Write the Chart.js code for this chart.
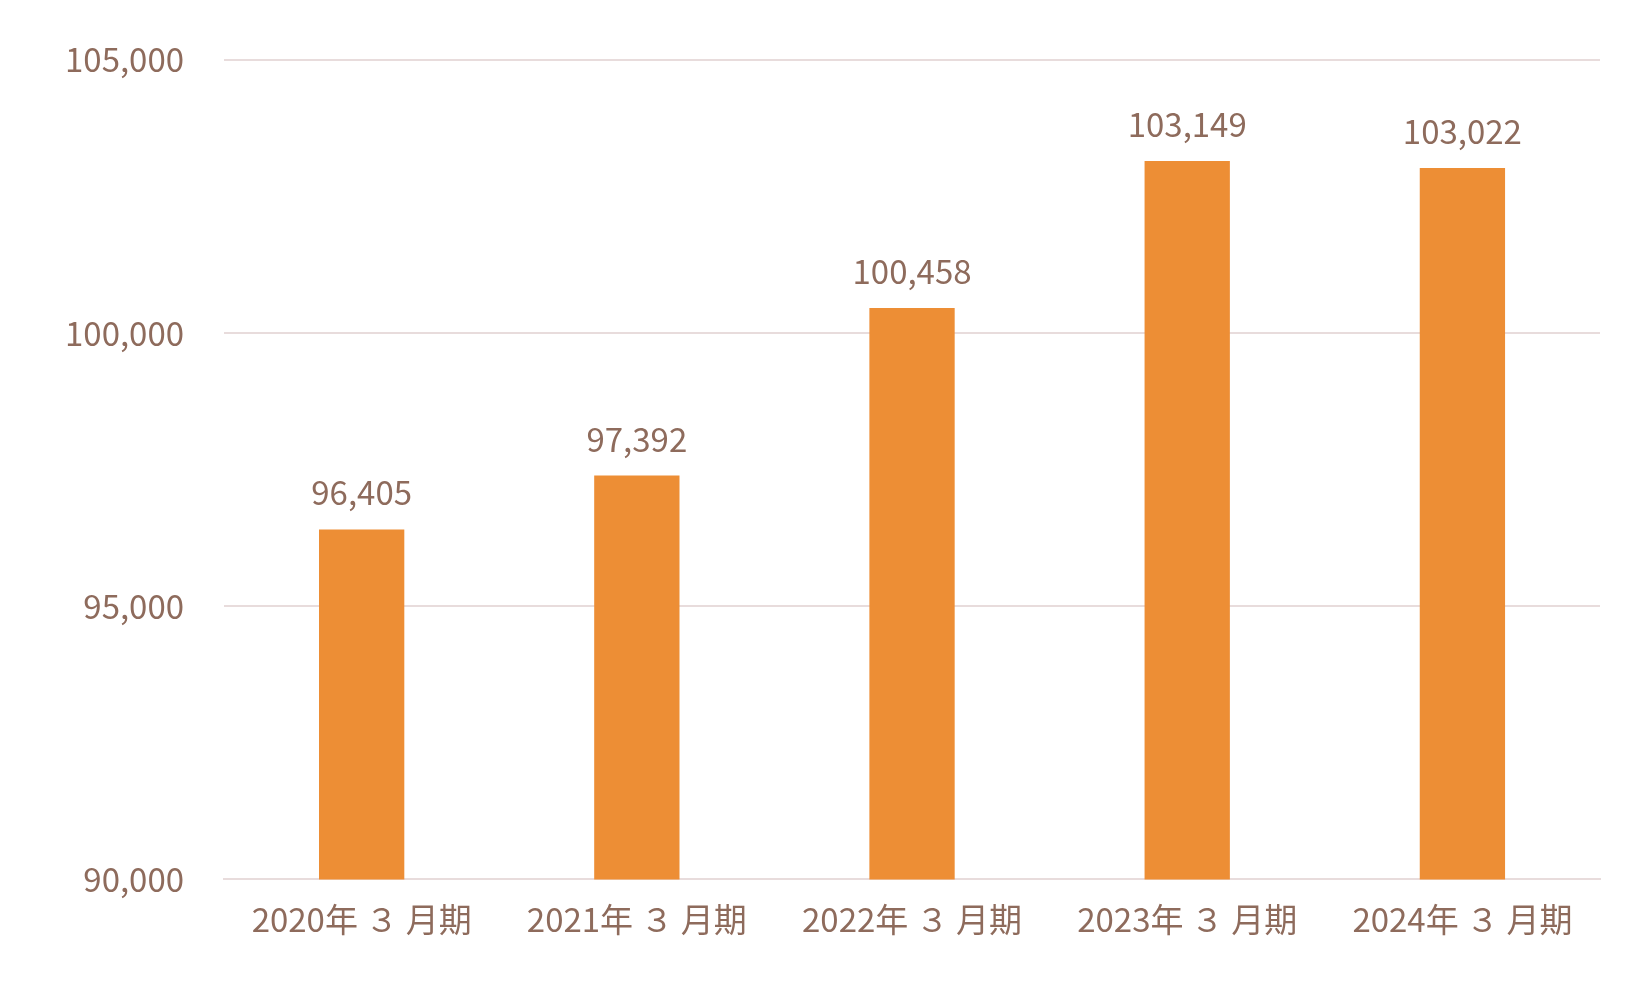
<!DOCTYPE html>
<html><head><meta charset="utf-8">
<script src="https://cdn.jsdelivr.net/npm/chart.js@4"></script>
<style>html,body{margin:0;background:#fff}#w{width:1650px;height:989px}</style>
</head><body><div id="w"><canvas id="c"></canvas></div>
<script>
const categories=["2020年 ３ 月期","2021年 ３ 月期","2022年 ３ 月期","2023年 ３ 月期","2024年 ３ 月期"];
const values=[96405,97392,100458,103149,103022];
const yTicks=[90000,95000,100000,105000];
const txt="#8E6B5C";
const font="'Noto Sans CJK JP','Noto Sans',sans-serif";
const labels={id:"lbl",afterDatasetsDraw(ch){const c=ch.ctx;const m=ch.getDatasetMeta(0);c.save();c.fillStyle=txt;c.font="33px "+font;c.textAlign="center";c.textBaseline="bottom";m.data.forEach((b,i)=>c.fillText(values[i].toLocaleString("en-US"),b.x,b.y-20));c.restore();}};
new Chart(document.getElementById("c"),{type:"bar",data:{labels:categories,datasets:[{data:values,backgroundColor:"#ED8E35",barPercentage:0.31,categoryPercentage:1}]},
options:{responsive:true,maintainAspectRatio:false,animation:false,layout:{padding:{top:16,right:50,left:25,bottom:38}},plugins:{legend:{display:false},tooltip:{enabled:false}},
scales:{x:{grid:{display:false},border:{color:"#E8DCDC",width:2},ticks:{color:txt,font:{size:33,family:font},padding:12}},
y:{min:90000,max:105000,afterBuildTicks(a){a.ticks=yTicks.map(v=>({value:v}));},grid:{color:"#E8DCDC",lineWidth:2,drawTicks:false},border:{display:false},ticks:{color:txt,font:{size:33,family:font},padding:40,callback:v=>v.toLocaleString("en-US")}}}},plugins:[labels]});
</script></body></html>
